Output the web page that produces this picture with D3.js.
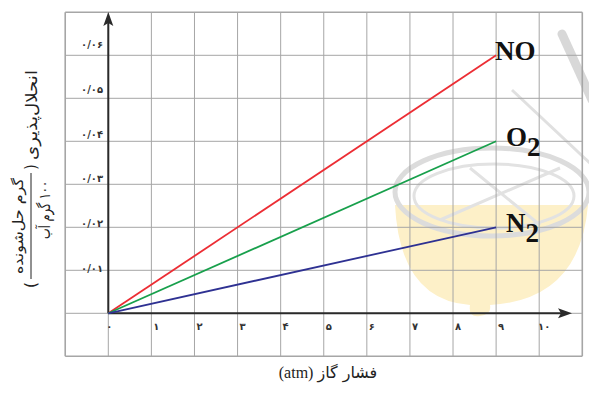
<!DOCTYPE html>
<html>
<head>
<meta charset="utf-8">
<script src="https://cdn.jsdelivr.net/npm/d3@7"></script>
<style>
  body { margin: 0; background: #fff; }
  svg { display: block; }
</style>
</head>
<body>
<svg id="chart" width="589" height="393"></svg>
<script>
// Gas pressure values (atm) and solubility of each gas
const pressure = [0, 9];
const noValues = [0, 0.06];
const o2Values = [0, 0.04];
const n2Values = [0, 0.02];

// Tick values and their Persian labels
const xTicks = [0, 1, 2, 3, 4, 5, 6, 7, 8, 9, 10];
const xTickLabels = ["۰", "۱", "۲", "۳", "۴", "۵", "۶", "۷", "۸", "۹", "۱۰"];
const yTicks = [0.01, 0.02, 0.03, 0.04, 0.05, 0.06];
const yTickLabels = ["۰/۰۱", "۰/۰۲", "۰/۰۳", "۰/۰۴", "۰/۰۵", "۰/۰۶"];

// Grid covers one cell beyond the axes on each side
const gridX = d3.range(-1, 12);
const gridY = d3.range(-0.01, 0.0701, 0.01);

const series = [
  {name: "NO", sub: "", values: noValues, color: "#ec2d34"},
  {name: "O", sub: "2", values: o2Values, color: "#18a04c"},
  {name: "N", sub: "2", values: n2Values, color: "#2e3192"}
];

const svg = d3.select("#chart");

// scales
let x = d3.scaleLinear().domain([0, 10]).range([108.3, 539.2]);
let y = d3.scaleLinear().domain([0, 0.06]).range([313.3, 55.3]);
// tick labels in the original drift slightly from the grid lines
let yLabel = d3.scaleLinear().domain([0.01, 0.06]).range([268, 44]);

// watermark (faint logo in the background)
let wm = svg.append("g").attr("class", "watermark");
wm.append("path")
  .attr("d", "M395,205 Q400,300 470,305 Q468,318 480,316 Q492,314 490,305 Q580,300 588,205 Z")
  .attr("fill", "#fdf0c8");
wm.append("ellipse").attr("cx", 492).attr("cy", 192).attr("rx", 97).attr("ry", 44)
  .attr("fill", "none").attr("stroke", "#dcdcdc").attr("stroke-width", 5);
wm.append("ellipse").attr("cx", 494).attr("cy", 196).attr("rx", 80).attr("ry", 32)
  .attr("fill", "none").attr("stroke", "#e2e2e2").attr("stroke-width", 3);
wm.append("path").attr("d", "M470,168 L540,225 M440,220 L560,168")
  .attr("fill", "none").attr("stroke", "#e2e2e2").attr("stroke-width", 3);
wm.append("line").attr("x1", 562).attr("y1", 34).attr("x2", 592).attr("y2", 100)
  .attr("stroke", "#d8d8d8").attr("stroke-width", 9).attr("stroke-linecap", "round");
wm.append("line").attr("x1", 512).attr("y1", 90).attr("x2", 592).attr("y2", 165)
  .attr("stroke", "#e0e0e0").attr("stroke-width", 3);

// grid
let grid = svg.append("g").attr("class", "grid");
grid.selectAll("line.v")
  .data(gridX)
  .enter()
  .append("line")
  .attr("class", "v")
  .attr("x1", d => x(d)).attr("x2", d => x(d))
  .attr("y1", y(0.07)).attr("y2", y(-0.01))
  .attr("stroke", "#a6a6a6")
  .attr("stroke-width", (d, i) => (i === 0 || i === gridX.length - 1) ? 1.6 : 1);
grid.selectAll("line.h")
  .data(gridY)
  .enter()
  .append("line")
  .attr("class", "h")
  .attr("x1", x(-1)).attr("x2", x(11))
  .attr("y1", d => y(d)).attr("y2", d => y(d))
  .attr("stroke", "#a6a6a6")
  .attr("stroke-width", (d, i) => (i === 0 || i === gridY.length - 1) ? 1.6 : 1);

// axes with arrows
let axisColor = "#2a2a2a";
svg.append("line")
  .attr("x1", x(0)).attr("x2", 562)
  .attr("y1", y(0)).attr("y2", y(0))
  .attr("stroke", axisColor).attr("stroke-width", 2);
svg.append("path")
  .attr("d", d3.line()([[572, y(0)], [558, y(0) - 5], [561, y(0)], [558, y(0) + 5]]) + "Z")
  .attr("fill", axisColor);
svg.append("line")
  .attr("x1", x(0)).attr("x2", x(0))
  .attr("y1", y(0)).attr("y2", 22)
  .attr("stroke", axisColor).attr("stroke-width", 2);
svg.append("path")
  .attr("d", d3.line()([[x(0), 12], [x(0) - 5, 26], [x(0), 23], [x(0) + 5, 26]]) + "Z")
  .attr("fill", axisColor);

// tick labels
let labelFont = "'DejaVu Sans', sans-serif";
svg.selectAll("text.xt")
  .data(xTicks)
  .enter()
  .append("text")
  .attr("class", "xt")
  .attr("x", d => x(d) + (d === 0 ? 1 : 5))
  .attr("y", 330)
  .attr("text-anchor", "middle")
  .attr("font-family", labelFont)
  .attr("font-size", 10)
  .attr("font-weight", "bold")
  .attr("fill", "#333")
  .text((d, i) => xTickLabels[i]);

svg.selectAll("text.yt")
  .data(yTicks)
  .enter()
  .append("text")
  .attr("class", "yt")
  .attr("x", 103)
  .attr("y", d => yLabel(d) + 4)
  .attr("text-anchor", "end")
  .attr("direction", "ltr")
  .attr("font-family", labelFont)
  .attr("font-size", 10)
  .attr("font-weight", "bold")
  .attr("fill", "#333")
  .text((d, i) => yTickLabels[i]);

// lines
let lineFunction = d3.line()
  .x((d, i) => x(pressure[i]))
  .y(d => y(d));

svg.selectAll("path.series")
  .data(series)
  .enter()
  .append("path")
  .attr("class", "series")
  .attr("d", d => lineFunction(d.values))
  .attr("stroke", d => d.color)
  .attr("stroke-width", 1.8)
  .attr("fill", "none");

// gas labels
let gasFont = "'Liberation Serif', 'Times New Roman', serif";
series.forEach(s => {
  let endY = y(s.values[s.values.length - 1]);
  let t = svg.append("text")
    .attr("x", s.sub ? 506 : 495)
    .attr("y", endY + 5)
    .attr("font-family", gasFont)
    .attr("font-size", 27)
    .attr("font-weight", "bold")
    .attr("fill", "#111")
    .text(s.name);
  if (s.sub) {
    t.append("tspan")
      .attr("dy", 10)
      .attr("font-size", 27)
      .text(s.sub);
  }
});

// x axis title
let xTitle = svg.append("text")
  .attr("x", 328)
  .attr("y", 378)
  .attr("text-anchor", "middle")
  .attr("font-size", 15)
  .attr("fill", "#222");
xTitle.append("tspan").attr("font-family", gasFont).attr("font-size", 16).text("(atm) ");
xTitle.append("tspan").attr("font-family", labelFont).attr("font-size", 16).text("فشار گاز");

// y axis title (rotated, with a fraction for the unit)
let yTitle = svg.append("g").attr("transform", "translate(31,177) rotate(-90)");
let titleFont = labelFont;
function persian(g, txt, px, py, size, len) {
  let t = g.append("text")
    .attr("x", px).attr("y", py)
    .attr("text-anchor", "middle")
    .attr("direction", "rtl")
    .attr("font-family", titleFont)
    .attr("font-size", size)
    .attr("fill", "#222")
    .text(txt);
  if (len) t.attr("textLength", len).attr("lengthAdjust", "spacingAndGlyphs");
  return t;
}
persian(yTitle, "انحلال‌پذیری", 62, 6, 16, 90);
persian(yTitle, "گرم حل‌شونده", -49, -8, 14, 96);
persian(yTitle, "۱۰۰ گرم آب", -33, 19, 16, 58);
yTitle.append("text")
  .attr("x", 10).attr("y", 5)
  .attr("text-anchor", "middle")
  .attr("font-family", titleFont)
  .attr("font-size", 15)
  .attr("fill", "#222")
  .text(")");
yTitle.append("text")
  .attr("x", -108).attr("y", 5)
  .attr("text-anchor", "middle")
  .attr("font-family", titleFont)
  .attr("font-size", 15)
  .attr("fill", "#222")
  .text("(");
yTitle.append("line")
  .attr("x1", 4).attr("x2", -102)
  .attr("y1", 0).attr("y2", 0)
  .attr("stroke", "#222").attr("stroke-width", 1);
</script>
</body>
</html>
